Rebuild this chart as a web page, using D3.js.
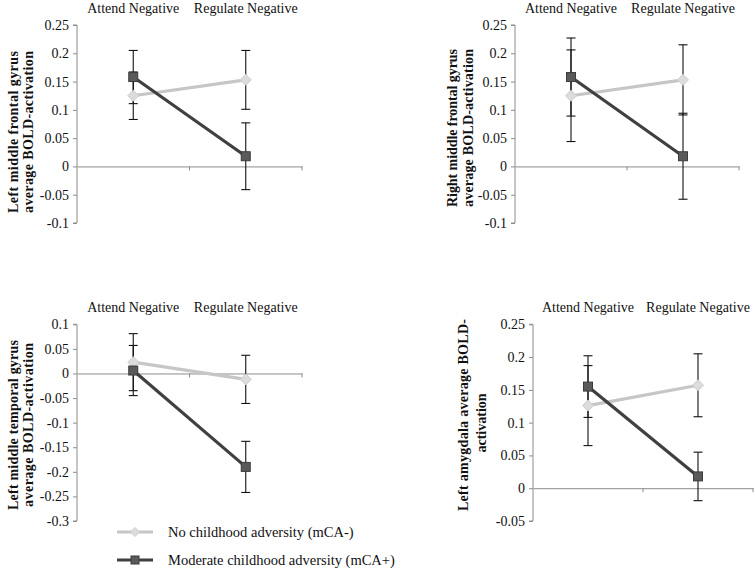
<!DOCTYPE html>
<html><head><meta charset="utf-8">
<script src="https://cdn.jsdelivr.net/npm/d3@7"></script>
<style>body{margin:0;background:#fff}svg{display:block}text{font-family:"Liberation Serif","Times New Roman",serif}</style>
</head><body>
<svg id="c" width="755" height="575"></svg>
<script>
// ---- data ----
const categories = ["Attend Negative", "Regulate Negative"];
const seriesNames = ["No childhood adversity (mCA-)", "Moderate childhood adversity (mCA+)"];

const yTicksTop = [0.25, 0.2, 0.15, 0.1, 0.05, 0, -0.05, -0.1];
const yTicksLMTG = [0.1, 0.05, 0, -0.05, -0.1, -0.15, -0.2, -0.25, -0.3];
const yTicksAmy = [0.25, 0.2, 0.15, 0.1, 0.05, 0, -0.05];

// Left middle frontal gyrus
const lmfgNoCA = [0.125, 0.153];
const lmfgNoCAErr = [0.042, 0.052];
const lmfgMCA = [0.158, 0.018];
const lmfgMCAErr = [0.047, 0.059];
// Right middle frontal gyrus
const rmfgNoCA = [0.125, 0.153];
const rmfgNoCAErr = [0.081, 0.062];
const rmfgMCA = [0.158, 0.018];
const rmfgMCAErr = [0.069, 0.076];
// Left middle temporal gyrus
const lmtgNoCA = [0.023, -0.012];
const lmtgNoCAErr = [0.058, 0.049];
const lmtgMCA = [0.006, -0.19];
const lmtgMCAErr = [0.051, 0.052];
// Left amygdala
const amyNoCA = [0.126, 0.157];
const amyNoCAErr = [0.061, 0.048];
const amyMCA = [0.155, 0.018];
const amyMCAErr = [0.047, 0.037];

// ---- styles ----
const axisCol = "#8c8c8c";
const lightLine = "#c6c6c6", lightFill = "#dcdcdc", lightStroke = "#cdcdcd";
const darkLine = "#404040", darkFill = "#5a5a5a", darkStroke = "#3c3c3c";

const svg = d3.select("#c");

function panel(cfg) {
  const g = svg.append("g");
  const x = d3.scaleBand().domain(categories).range([cfg.x0, cfg.x1]);
  const y = d3.scaleLinear().domain([cfg.ticks[cfg.ticks.length - 1], cfg.ticks[0]]).range([cfg.yb, cfg.yt]);
  const cx = c => x(c) + x.bandwidth() / 2;

  // y axis
  const ya = g.append("g").attr("transform", `translate(${cfg.x0},0)`)
    .call(d3.axisLeft(y).tickValues(cfg.ticks).tickSize(4).tickPadding(4).tickFormat(d => String(+d.toFixed(2))));
  ya.select(".domain").attr("stroke", axisCol).attr("d", `M-4,${y(cfg.ticks[0])}H0V${y(cfg.ticks[cfg.ticks.length-1])}H-4`);
  ya.selectAll(".tick line").attr("stroke", axisCol);
  ya.selectAll(".tick text").attr("fill", "#111").style("font-size", "14px")
    .style("font-family", '"Liberation Serif",serif');

  // x axis at zero
  const xa = g.append("g").attr("transform", `translate(0,${y(0)})`)
    .call(d3.axisBottom(x).tickSize(0).tickFormat(""));
  xa.select(".domain").attr("stroke", axisCol);
  xa.selectAll(".tick").remove();
  // boundary tick marks
  const bounds = [x(categories[1]), cfg.x1];
  g.selectAll(".bt").data(bounds).join("line")
    .attr("x1", d => d).attr("x2", d => d).attr("y1", y(0)).attr("y2", y(0) + 4)
    .attr("stroke", axisCol);

  // category labels on top
  g.selectAll(".cat").data(categories).join("text")
    .attr("x", cx).attr("y", cfg.catY).attr("text-anchor", "middle")
    .style("font-size", "14px").attr("fill", "#111").text(d => d);

  // y label
  cfg.ylab.forEach(l => {
    const t = g.append("text")
      .attr("transform", `translate(${l.x},${l.cy}) rotate(-90)`)
      .attr("text-anchor", "middle").style("font-size", "14px").style("font-weight", "bold")
      .attr("fill", "#111").text(l.text);
    if (l.len) t.attr("textLength", l.len).attr("lengthAdjust", "spacing");
  });

  const series = [
    {v: cfg.noCA, e: cfg.noCAErr, light: true},
    {v: cfg.mCA, e: cfg.mCAErr, light: false}
  ];
  // error bars
  series.forEach(s => {
    categories.forEach((c, i) => {
      const xx = cx(c), y1 = y(s.v[i] + s.e[i]), y2 = y(s.v[i] - s.e[i]);
      g.append("line").attr("x1", xx).attr("x2", xx).attr("y1", y1).attr("y2", y2).attr("stroke", "#111").attr("stroke-width", 1.1);
      [y1, y2].forEach(yy => g.append("line").attr("x1", xx - 4.5).attr("x2", xx + 4.5).attr("y1", yy).attr("y2", yy).attr("stroke", "#111").attr("stroke-width", 1.1));
    });
  });
  const line = d3.line().x((d, i) => cx(categories[i])).y(d => y(d));
  // lines
  series.forEach(s => {
    g.append("path").datum(s.v).attr("d", line).attr("fill", "none")
      .attr("stroke", s.light ? lightLine : darkLine).attr("stroke-width", 3.2);
  });
  // markers
  series.forEach(s => {
    s.v.forEach((v, i) => {
      const xx = cx(categories[i]), yy = y(v);
      if (s.light) {
        g.append("path").attr("d", `M${xx},${yy-5.5}L${xx+5.5},${yy}L${xx},${yy+5.5}L${xx-5.5},${yy}Z`)
          .attr("fill", lightFill).attr("stroke", lightStroke).attr("stroke-width", 1);
      } else {
        g.append("rect").attr("x", xx - 4.5).attr("y", yy - 4.5).attr("width", 9).attr("height", 9)
          .attr("fill", darkFill).attr("stroke", darkStroke).attr("stroke-width", 1);
      }
    });
  });
}

panel({x0: 77, x1: 302, yt: 25, yb: 223, ticks: yTicksTop, catY: 13,
  noCA: lmfgNoCA, noCAErr: lmfgNoCAErr, mCA: lmfgMCA, mCAErr: lmfgMCAErr,
  ylab: [{text: "Left middle frontal gyrus", x: 18, cy: 132, len: 162},
         {text: "average BOLD-activation", x: 33, cy: 132, len: 162}]});

panel({x0: 515, x1: 739, yt: 25, yb: 223, ticks: yTicksTop, catY: 13,
  noCA: rmfgNoCA, noCAErr: rmfgNoCAErr, mCA: rmfgMCA, mCAErr: rmfgMCAErr,
  ylab: [{text: "Right middle frontal gyrus", x: 457, cy: 128, len: 158},
         {text: "average BOLD-activation", x: 473, cy: 128, len: 158}]});

panel({x0: 77, x1: 302, yt: 324.3, yb: 521, ticks: yTicksLMTG, catY: 312,
  noCA: lmtgNoCA, noCAErr: lmtgNoCAErr, mCA: lmtgMCA, mCAErr: lmtgMCAErr,
  ylab: [{text: "Left middle temporal gyrus", x: 18, cy: 425, len: 170},
         {text: "average BOLD-activation", x: 33, cy: 425, len: 164}]});

panel({x0: 533, x1: 753, yt: 324.3, yb: 521, ticks: yTicksAmy, catY: 312,
  noCA: amyNoCA, noCAErr: amyNoCAErr, mCA: amyMCA, mCAErr: amyMCAErr,
  ylab: [{text: "Left amygdala average BOLD-", x: 468, cy: 415, len: 192},
         {text: "activation", x: 486, cy: 423}]});

// legend
const lg = svg.append("g");
const legY = [532, 560];
seriesNames.forEach((n, i) => {
  const yy = legY[i];
  lg.append("line").attr("x1", 117).attr("x2", 153).attr("y1", yy).attr("y2", yy)
    .attr("stroke", i === 0 ? lightLine : darkLine).attr("stroke-width", 3.2);
  if (i === 0) {
    lg.append("path").attr("d", `M135,${yy-4.5}L139.5,${yy}L135,${yy+4.5}L130.5,${yy}Z`).attr("fill", lightFill).attr("stroke", lightStroke);
  } else {
    lg.append("rect").attr("x", 131).attr("y", yy - 4).attr("width", 8).attr("height", 8).attr("fill", darkFill).attr("stroke", darkStroke);
  }
  lg.append("text").attr("x", 168).attr("y", yy + 4.5).style("font-size", "14.5px").attr("fill", "#111").text(n);
});
</script>
</body></html>
